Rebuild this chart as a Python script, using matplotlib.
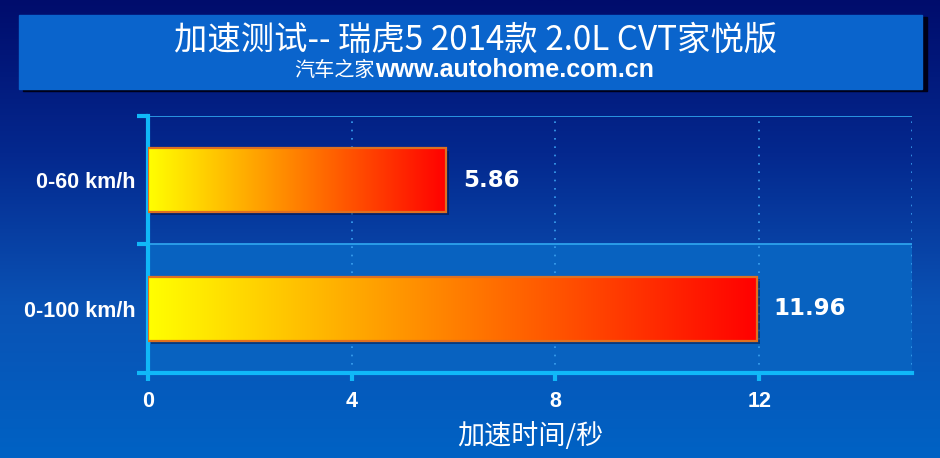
import matplotlib.pyplot as plt
import numpy as np
from matplotlib.colors import LinearSegmentedColormap
from matplotlib import patheffects as pe

categories = ['0-60 km/h', '0-100 km/h']
times = [5.86, 11.96]
xticks = [0, 4, 8, 12]
title = '加速测试-- 瑞虎5 2014款 2.0L CVT家悦版'
xlabel = '加速时间/秒'

cjk = ['Noto Sans CJK SC', 'DejaVu Sans']

fig = plt.figure(figsize=(9.4, 4.58), dpi=100)

# background gradient
bg = fig.add_axes([0, 0, 1, 1], zorder=-10)
bg_cmap = LinearSegmentedColormap.from_list('bg', ['#000c6c', '#04288e', '#0a52b4', '#0062c4'])
bg.imshow(np.linspace(0, 1, 256).reshape(-1, 1), aspect='auto', cmap=bg_cmap,
          extent=[0, 1, 0, 1], origin='upper')
bg.set_xlim(0, 1)
bg.set_ylim(0, 1)
bg.axis('off')

# title box with shadow
bg.add_patch(plt.Rectangle((23 / 940, 1 - 91 / 458), 904 / 940, 74 / 458, color='#000018', zorder=1))
bg.add_patch(plt.Rectangle((19 / 940, 1 - 89 / 458), 903 / 940, 74 / 458, color='#0a64cc', zorder=2))
fig.text(0.506, 1 - 40 / 458, title, ha='center', va='center', color='white', fontsize=24, family=cjk)
fig.text(0.399, 1 - 70 / 458, '汽车之家', ha='right', va='center', color='white', fontsize=14.5, family=cjk)
fig.text(0.399, 1 - 70 / 458, 'www.autohome.com.cn', ha='left', va='center', color='white',
         fontsize=18, family='Liberation Sans', fontweight='bold')

ax = fig.add_axes([148 / 940, 1 - 373 / 458, 764 / 940, 257 / 458])
ax.patch.set_alpha(0)

# lower band fill
ax.axhspan(0.5, 1.5, color='#0862c0', zorder=0)
for y in [-0.5, 0.5]:
    ax.axhline(y, color='#30a8f0', lw=1.2, zorder=1)
for x in xticks[1:] + [15]:
    ax.axvline(x, color='#3aa0f0', lw=1.2, ls=(0, (1, 4)), zorder=1)

cmap = LinearSegmentedColormap.from_list('bar', ['#ffff00', '#ff8000', '#ff0000'])
grad = np.linspace(0, 1, 256).reshape(1, -1)
h = 0.25
for i, v in enumerate(times):
    ax.barh(i, v, height=2 * h, color='none', zorder=2,
            path_effects=[pe.SimplePatchShadow(offset=(2, -2), shadow_rgbFace='#000830', alpha=0.45)])
    ax.imshow(grad, aspect='auto', cmap=cmap, extent=[0, v, i + h, i - h], zorder=3)
    ax.barh(i, v, height=2 * h, facecolor='none', edgecolor='#e07020', lw=1.6, zorder=4)
    ax.annotate(f'{v:.2f}', (v, i), xytext=(12, 0), textcoords='offset points', ha='left', va='center',
                color='white', fontsize=16.5, fontweight='bold', family='DejaVu Sans')
ax.set_xlim(0, 15)
ax.set_ylim(len(categories) - 0.5, -0.5)

for s in ['top', 'right']:
    ax.spines[s].set_visible(False)
for s in ['left', 'bottom']:
    ax.spines[s].set_color('#10b8f8')
    ax.spines[s].set_linewidth(3)

ax.set_xticks(xticks)
ax.set_xticklabels([str(t) for t in xticks], fontsize=15.5, fontweight='bold', family='Liberation Sans', color='white')
ax.tick_params(axis='x', length=6, width=3, color='#10b8f8', pad=7)
ax.set_yticks(range(len(categories)))
ax.set_yticklabels(categories, fontsize=15.5, fontweight='bold', family='Liberation Sans', color='white')
ax.tick_params(axis='y', which='major', length=0, pad=9)
ax.set_yticks([-0.5, 0.5, 1.5], minor=True)
ax.tick_params(axis='y', which='minor', length=8, width=3, color='#10b8f8')

ax.set_xlabel(xlabel, fontsize=19.5, color='white', family=cjk, labelpad=7)

fig.savefig('out.png', dpi=100)
